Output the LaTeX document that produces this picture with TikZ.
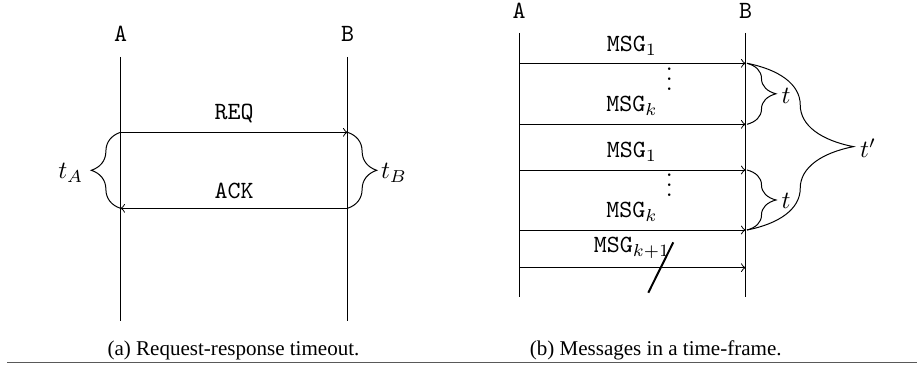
\documentclass[tikz,border=0pt]{standalone}
\usepackage{fontspec}
\newfontfamily\capfont{Liberation Serif}
\usetikzlibrary{decorations.pathreplacing}
\begin{document}
\begin{tikzpicture}[x=0.4039pt,y=-0.4039pt,
  lbl/.style={font=\ttfamily, inner sep=0pt, anchor=base},
  life/.style={line width=0.4pt},
  msg/.style={->, line width=0.4pt},
  brc/.style={decorate, decoration={brace, amplitude=#1}},
  mathlbl/.style={inner sep=0pt},
  captxt/.style={font=\capfont\fontsize{8.5}{10}\selectfont, inner sep=0pt, anchor=base},
  dts/.style={inner sep=0pt},
  slash/.style={line width=0.8pt}]
\useasboundingbox (0,0) rectangle (917,369);

% ---------- (a) ----------
\node[lbl] (aA) at (120.5,41.7) {A};
\node[lbl] (aB) at (347.5,41.7) {B};
\coordinate (aAt) at (120.5,57);
\coordinate (aAb) at (120.5,321);
\coordinate (aBt) at (347.5,57);
\coordinate (aBb) at (347.5,321);
\draw[life] (aAt) -- (aAb);
\draw[life] (aBt) -- (aBb);
\coordinate (aReqA) at (120.5,132.3);
\coordinate (aReqB) at (347.5,132.3);
\coordinate (aAckA) at (120.5,208.3);
\coordinate (aAckB) at (347.5,208.3);
\draw[msg] (aReqA) -- (aReqB);
\draw[msg] (aAckB) -- (aAckA);
\node[lbl] (req) at (234,119.3) {REQ};
\node[lbl] (ack) at (234,199) {ACK};
\draw[brc=11.8pt] (aAckA) -- (aReqA);
\draw[brc=11.8pt] (aReqB) -- (aAckB);
\node[mathlbl] (tA) at (70.8,173) {$t_A$};
\node[mathlbl] (tB) at (394,173) {$t_B$};
\node[captxt] (capa) at (233.5,355.5) {(a) Request-response timeout.};

% ---------- (b) ----------
\node[lbl] (bA) at (519,18.3) {A};
\node[lbl] (bB) at (745.5,18.3) {B};
\coordinate (bAt) at (519,33);
\coordinate (bAb) at (519,297);
\coordinate (bBt) at (745.5,33);
\coordinate (bBb) at (745.5,297);
\draw[life] (bAt) -- (bAb);
\draw[life] (bBt) -- (bBb);
\foreach \i/\y in {1/63.3,2/124.3,3/170,4/230,5/267.7}{
  \coordinate (m\i A) at (519,\y);
  \coordinate (m\i B) at (745.5,\y);
  \coordinate (r\i) at (747,\y);
  \draw[msg] (m\i A) -- (m\i B);
}
\node[lbl] (msg1) at (632,51.7) {MSG$_1$};
\node[lbl] (msgk) at (632,111.7) {MSG$_k$};
\node[lbl] (msg1b) at (632,157.3) {MSG$_1$};
\node[lbl] (msgkb) at (632,217.3) {MSG$_k$};
\node[lbl] (msgk1) at (632,252.3) {MSG$_{k+1}$};
\node[dts] (d1) at (669.3,72) {$\vdots$};
\node[dts] (d2) at (669.3,177.5) {$\vdots$};
\coordinate (s1) at (648.3,292.7);
\coordinate (s2) at (673.3,242.3);
\draw[slash] (s1) -- (s2);
\draw[brc=11.7pt] (r1) -- (r2);
\draw[brc=11.7pt] (r3) -- (r4);
\draw[brc=43pt] (r1) -- (r4);
\node[mathlbl] (t1) at (786,95.5) {$t$};
\node[mathlbl] (t2) at (786,200.5) {$t$};
\node[mathlbl] (tp) at (868,148) {$t'$};
\node[captxt] (capb) at (655.7,355.5) {(b) Messages in a time-frame.};

% rule
\coordinate (rl) at (7,362.7);
\coordinate (rr) at (917,362.7);
\draw[line width=0.5pt, black!65] (rl) -- (rr);
\end{tikzpicture}
\end{document}
